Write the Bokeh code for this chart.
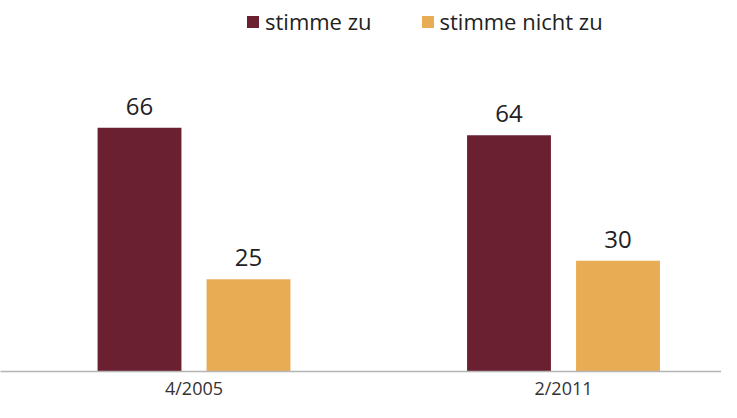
from bokeh.plotting import figure
from bokeh.models import ColumnDataSource, Range1d, FixedTicker, LabelSet, Legend, LegendItem
from bokeh.transform import dodge
from bokeh.core.properties import value
from bokeh.embed import file_html
from bokeh.resources import INLINE

categories = ["4/2005", "2/2011"]
agree = [66, 64]
disagree = [25, 30]
series_names = ["stimme zu", "stimme nicht zu"]
colors = ["#6B2031", "#E8AD54"]

idx = list(range(len(categories)))
src = ColumnDataSource(dict(x=idx, agree=agree, disagree=disagree,
                            agree_lbl=[str(v) for v in agree],
                            disagree_lbl=[str(v) for v in disagree]))

FONT = "Open Sans"
p = figure(width=721, height=402, output_backend="svg", toolbar_location=None,
           x_range=Range1d(-0.5237, 1.4276), y_range=Range1d(0, 100.5),
           min_border_left=0, min_border_right=0, min_border_top=0, min_border_bottom=0)
p.outline_line_color = None
p.xgrid.grid_line_color = None
p.ygrid.grid_line_color = None
p.yaxis.visible = False

bw = 0.227
off = 0.1475
r1 = p.vbar(x=dodge("x", -off, range=p.x_range), top="agree", width=bw, source=src,
            color=colors[0], line_color=None)
r2 = p.vbar(x=dodge("x", off, range=p.x_range), top="disagree", width=bw, source=src,
            color=colors[1], line_color=None)

for col, lbl, o in [("agree", "agree_lbl", -off), ("disagree", "disagree_lbl", off)]:
    ls = LabelSet(x=dodge("x", o, range=p.x_range), y=col, text=lbl, source=src,
                  text_align="center", text_baseline="alphabetic", y_offset=13,
                  text_font=value(FONT), text_font_size="24px", text_color="#222222")
    p.add_layout(ls)

ax = p.xaxis[0]
ax.ticker = FixedTicker(ticks=idx)
ax.major_label_overrides = {i: c for i, c in zip(idx, categories)}
ax.major_tick_line_color = None
ax.minor_tick_line_color = None
ax.major_tick_out = 0
ax.major_tick_in = 0
ax.axis_line_color = "#b5b5b5"
ax.axis_line_width = 1.5
ax.major_label_text_font = FONT
ax.major_label_text_font_size = "18px"
ax.major_label_text_color = "#333333"
ax.major_label_standoff = 4

legend = Legend(items=[LegendItem(label=series_names[0], renderers=[r1]),
                       LegendItem(label=series_names[1], renderers=[r2])],
                orientation="horizontal", location=(245, 335),
                border_line_alpha=0, background_fill_alpha=0,
                label_text_font=FONT, label_text_font_size="22px", label_text_color="#222222",
                glyph_width=15, glyph_height=15, label_standoff=5, spacing=48,
                margin=0, padding=0)
p.add_layout(legend)

open("out.html", "w").write(file_html(p, INLINE))
